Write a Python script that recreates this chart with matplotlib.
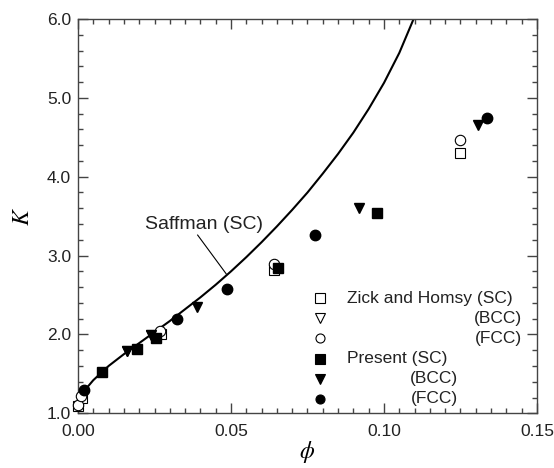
import matplotlib
matplotlib.use("Agg")
import matplotlib.pyplot as plt
from matplotlib.ticker import MultipleLocator

plt.rcParams['font.family'] = ['Liberation Sans', 'DejaVu Sans']
plt.rcParams['mathtext.fontset'] = 'stix'

# Saffman (SC) curve
saff_phi = [0.0015, 0.005, 0.010, 0.015, 0.020, 0.025, 0.030, 0.035, 0.040, 0.045,
            0.050, 0.055, 0.060, 0.065, 0.070, 0.075, 0.080, 0.085, 0.090, 0.095,
            0.100, 0.105, 0.110]
saff_K = [1.26, 1.42, 1.60, 1.75, 1.89, 2.03, 2.17, 2.32, 2.47, 2.63,
          2.80, 2.98, 3.17, 3.37, 3.58, 3.80, 4.04, 4.29, 4.56, 4.86,
          5.19, 5.57, 6.03]

# Zick and Homsy
zh_sc_phi = [0.0, 0.0012, 0.0271, 0.064, 0.1248]
zh_sc_K = [1.09, 1.20, 2.01, 2.82, 4.30]
zh_bcc_phi = [0.0159, 0.024]
zh_bcc_K = [1.79, 1.99]
zh_fcc_phi = [0.0, 0.001, 0.0268, 0.064, 0.1248]
zh_fcc_K = [1.11, 1.22, 2.04, 2.89, 4.46]

# Present
pr_sc_phi = [0.008, 0.0194, 0.0254, 0.0655, 0.0976]
pr_sc_K = [1.52, 1.82, 1.96, 2.84, 3.54]
pr_bcc_phi = [0.0159, 0.024, 0.0388, 0.0918, 0.1308]
pr_bcc_K = [1.79, 1.99, 2.35, 3.60, 4.65]
pr_fcc_phi = [0.002, 0.0322, 0.0488, 0.0775, 0.1338]
pr_fcc_K = [1.30, 2.20, 2.57, 3.26, 4.74]

x_ticks = [0.00, 0.05, 0.10, 0.15]
x_ticklabels = ['0.00', '0.05', '0.10', '0.15']
y_ticks = [1.0, 2.0, 3.0, 4.0, 5.0, 6.0]
y_ticklabels = ['1.0', '2.0', '3.0', '4.0', '5.0', '6.0']

fig = plt.figure(figsize=(5.54, 4.68), dpi=100)
ax = fig.add_axes([0.1408, 0.1169, 0.8285, 0.8425])

ax.plot(saff_phi, saff_K, color='black', lw=1.5, zorder=2, clip_on=True)

ms = 7.5
ax.plot(zh_sc_phi, zh_sc_K, ls='none', marker='s', ms=ms, mfc='white', mec='black', mew=0.8, zorder=3, clip_on=False)
ax.plot(zh_bcc_phi, zh_bcc_K, ls='none', marker='v', ms=ms, mfc='white', mec='black', mew=0.8, zorder=3, clip_on=False)
ax.plot(zh_fcc_phi, zh_fcc_K, ls='none', marker='o', ms=ms, mfc='white', mec='black', mew=0.8, zorder=3, clip_on=False)
ax.plot(pr_sc_phi, pr_sc_K, ls='none', marker='s', ms=ms, mfc='black', mec='black', zorder=4, clip_on=False)
ax.plot(pr_bcc_phi, pr_bcc_K, ls='none', marker='v', ms=ms, mfc='black', mec='black', zorder=4, clip_on=False)
ax.plot(pr_fcc_phi, pr_fcc_K, ls='none', marker='o', ms=ms, mfc='black', mec='black', zorder=4, clip_on=False)

# Saffman label with leader
ax.plot([0.0391, 0.0484], [3.26, 2.77], color='black', lw=0.8, zorder=2)
ax.text(0.0412, 3.40, 'Saffman (SC)', fontsize=14, ha='center', va='center', color='#222222')

ax.set_xlim(0, 0.15)
ax.set_ylim(1.0, 6.0)
ax.set_xticks(x_ticks)
ax.set_xticklabels(x_ticklabels)
ax.set_yticks(y_ticks)
ax.set_yticklabels(y_ticklabels)
ax.xaxis.set_minor_locator(MultipleLocator(0.005))
ax.yaxis.set_minor_locator(MultipleLocator(0.2))
ax.tick_params(which='both', direction='in', top=True, right=True, colors='#444444',
               labelcolor='#222222', labelsize=12.5)
ax.tick_params(which='major', length=7, width=1)
ax.tick_params(which='minor', length=3.5, width=1)
ax.tick_params(axis='x', pad=8)
ax.tick_params(axis='y', pad=5)
for s in ax.spines.values():
    s.set_color('#444444')
    s.set_linewidth(1.0)

ax.set_xlabel(r'$\phi$', fontsize=17, labelpad=0)
ax.set_ylabel(r'$K$', fontsize=17, rotation=90, labelpad=9)

# Manual legend
mx = 0.527
rows = [0.2917, 0.2410, 0.1903, 0.1378, 0.0871, 0.0363]
leg_markers = [('s', 'white'), ('v', 'white'), ('o', 'white'),
               ('s', 'black'), ('v', 'black'), ('o', 'black')]
leg_texts = ['Zick and Homsy (SC)', '(BCC)', '(FCC)', 'Present (SC)', '(BCC)', '(FCC)']
for (m, fc), y, t in zip(leg_markers, rows, leg_texts):
    ax.plot([mx], [y], transform=ax.transAxes, ls='none', marker=m, ms=6.5,
            mfc=fc, mec='black', mew=0.8, clip_on=False, zorder=5)
text_pos = [(0.585, 'left'), (0.9667, 'right'), (0.9667, 'right'),
            (0.585, 'left'), (0.828, 'right'), (0.828, 'right')]
for (tx, ha), y, t in zip(text_pos, rows, leg_texts):
    ax.text(tx, y, t, transform=ax.transAxes, ha=ha, va='center', fontsize=12.5, color='#222222')

fig.savefig('out.png', dpi=100)
